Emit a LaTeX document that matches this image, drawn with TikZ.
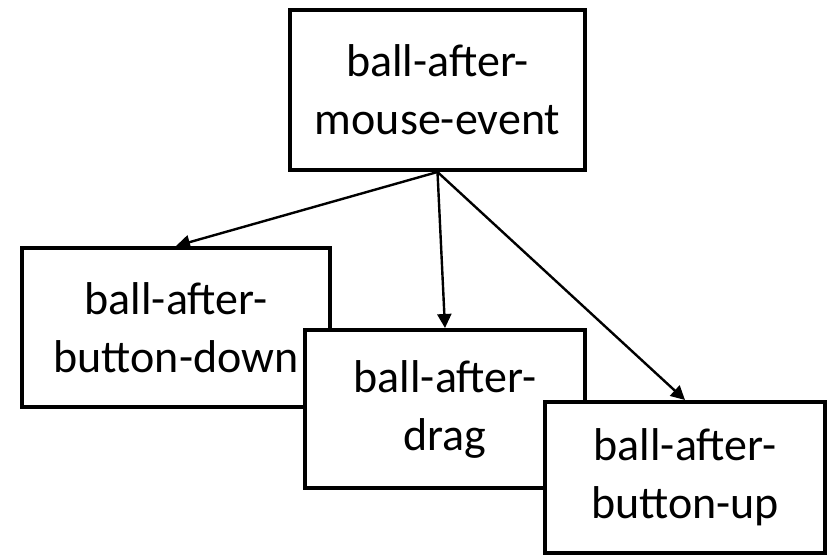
\documentclass[tikz,border=0pt]{standalone}
\usepackage{fontspec}
\setmainfont{Carlito}
\usetikzlibrary{arrows.meta}
\tikzset{
  ballbox/.style={draw, line width=2pt, fill=white, rectangle, align=center,
    inner sep=0pt, font=\fontsize{23}{29}\selectfont},
  callarrow/.style={line width=1.2pt, -{Triangle[length=7pt,width=7pt]}}
}
\begin{document}
\begin{tikzpicture}[x=0.5pt,y=-0.5pt]
\useasboundingbox (0,0) rectangle (829,560);
\node [ballbox, minimum width=147.5pt, minimum height=80pt] (event) at (437.5,90) {ball-after-\\mouse-event};
\node [ballbox, minimum width=154pt, minimum height=79.5pt] (down) at (176,327.5) {ball-after-\\button-down};
\node [ballbox, minimum width=140pt, minimum height=79pt] (drag) at (445,409) {ball-after-\\drag};
\node [ballbox, minimum width=140pt, minimum height=75.5pt] (up) at (685,477.5) {ball-after-\\button-up};
\draw [callarrow] (event.south) -- (down.north) ;
\draw [callarrow] (event.south) -- (drag.north) ;
\draw [callarrow] (event.south) -- (up.north) ;
\end{tikzpicture}
\end{document}
